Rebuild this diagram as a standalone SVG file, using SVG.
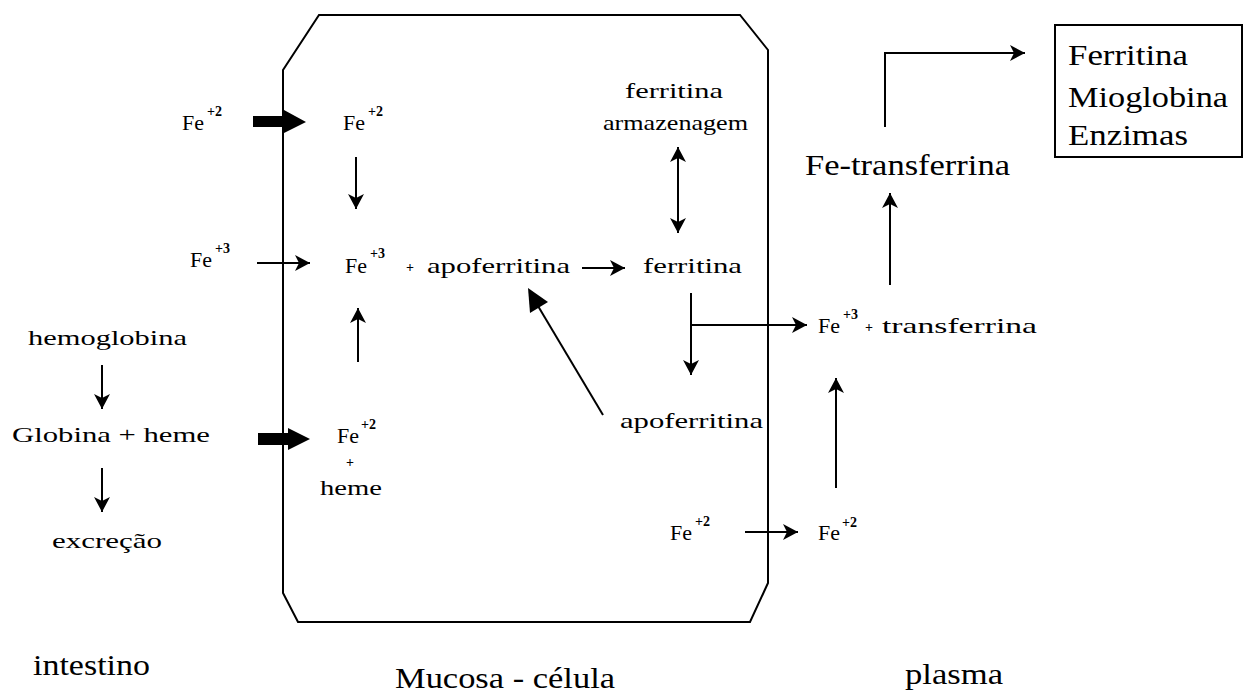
<svg xmlns="http://www.w3.org/2000/svg" width="1248" height="697" viewBox="0 0 1248 697">
<style>
text{font-family:"Liberation Serif","Times New Roman",serif;fill:#000}
.s{font-size:22px}
.l{font-size:30px}
.sup{font-size:14px;font-weight:bold}
.ln{stroke:#000;stroke-width:2;fill:none}
.thick{fill:#000}
</style>
<defs>
<marker id="ah" markerUnits="userSpaceOnUse" viewBox="-16 -10 17 20" refX="0" refY="0" markerWidth="17" markerHeight="20" orient="auto-start-reverse">
<path d="M0,0 L-15,-8 L-11,0 L-15,8 Z" fill="#000"/>
</marker>
</defs>
<g id="cell">
<polygon class="ln" points="319,15 740,15 768,50 768,583 750,622 298,622 283,593 283,70"/>
</g>
<g id="result-box">
<rect x="1055" y="25" width="187" height="132" class="ln"/>
<text class="l" x="1068" y="65" textLength="120" lengthAdjust="spacingAndGlyphs">Ferritina</text>
<text class="l" x="1068" y="107" textLength="160" lengthAdjust="spacingAndGlyphs">Mioglobina</text>
<text class="l" x="1068" y="145" textLength="120" lengthAdjust="spacingAndGlyphs">Enzimas</text>
</g>
<g id="fe2-int"><text class="s" x="182" y="130">Fe</text><text class="sup" x="207" y="116">+2</text></g>
<g id="fe3-int"><text class="s" x="190" y="267">Fe</text><text class="sup" x="215" y="253">+3</text></g>
<g id="hemoglobina"><text class="s" x="28" y="345" textLength="159" lengthAdjust="spacingAndGlyphs">hemoglobina</text></g>
<g id="globina-heme"><text class="s" x="12" y="442" textLength="198" lengthAdjust="spacingAndGlyphs">Globina + heme</text></g>
<g id="excrecao"><text class="s" x="52" y="548" textLength="110" lengthAdjust="spacingAndGlyphs">excreção</text></g>
<g id="intestino"><text class="l" x="33" y="675" textLength="117" lengthAdjust="spacingAndGlyphs">intestino</text></g>
<g id="fe2-cell"><text class="s" x="343" y="130">Fe</text><text class="sup" x="368" y="116">+2</text></g>
<g id="fe3-apoferritina">
<text class="s" x="345" y="273">Fe</text><text class="sup" x="370" y="258">+3</text>
<text class="sup" x="406" y="272">+</text>
<text class="s" x="427" y="273" textLength="143" lengthAdjust="spacingAndGlyphs">apoferritina</text>
</g>
<g id="fe2-heme">
<text class="s" x="337" y="443">Fe</text><text class="sup" x="361" y="429">+2</text>
<text class="sup" x="346" y="467">+</text>
<text class="s" x="320" y="495" textLength="62" lengthAdjust="spacingAndGlyphs">heme</text>
</g>
<g id="ferritina-armazenagem">
<text class="s" x="625" y="98" textLength="98" lengthAdjust="spacingAndGlyphs">ferritina</text>
<text class="s" x="603" y="130" textLength="145" lengthAdjust="spacingAndGlyphs">armazenagem</text>
</g>
<g id="ferritina"><text class="s" x="643" y="273" textLength="99" lengthAdjust="spacingAndGlyphs">ferritina</text></g>
<g id="apoferritina"><text class="s" x="620" y="428" textLength="143" lengthAdjust="spacingAndGlyphs">apoferritina</text></g>
<g id="fe2-cell-bottom"><text class="s" x="670" y="540">Fe</text><text class="sup" x="695" y="526">+2</text></g>
<g id="fe3-transferrina">
<text class="s" x="818" y="333">Fe</text><text class="sup" x="843" y="319">+3</text>
<text class="sup" x="865" y="332">+</text>
<text class="s" x="882" y="333" textLength="155" lengthAdjust="spacingAndGlyphs">transferrina</text>
</g>
<g id="fe2-plasma"><text class="s" x="818" y="540">Fe</text><text class="sup" x="842" y="527">+2</text></g>
<g id="fe-transferrina"><text class="l" x="805" y="175" textLength="205" lengthAdjust="spacingAndGlyphs">Fe-transferrina</text></g>
<g id="mucosa"><text class="l" x="395" y="688" textLength="220" lengthAdjust="spacingAndGlyphs">Mucosa - célula</text></g>
<g id="plasma"><text class="l" x="905" y="684" textLength="98" lengthAdjust="spacingAndGlyphs">plasma</text></g>
<g id="connectors">
<polygon class="thick" points="253,116 284,116 284,110 306,122 284,133 284,127 253,127"/>
<polygon class="thick" points="258,433 288,433 288,428 310,439 288,450 288,445 258,445"/>
<line class="ln" x1="257" y1="263" x2="310" y2="263" marker-end="url(#ah)"/>
<line class="ln" x1="356" y1="157" x2="356" y2="209" marker-end="url(#ah)"/>
<line class="ln" x1="358" y1="362" x2="358" y2="308" marker-end="url(#ah)"/>
<line class="ln" x1="582" y1="268" x2="625" y2="268" marker-end="url(#ah)"/>
<line class="ln" x1="102" y1="365" x2="102" y2="409" marker-end="url(#ah)"/>
<line class="ln" x1="102" y1="468" x2="102" y2="512" marker-end="url(#ah)"/>
<line class="ln" x1="603" y1="415" x2="538" y2="306"/>
<polygon class="thick" points="528,288 530,313 548,302"/>
<line class="ln" x1="678" y1="147" x2="678" y2="233" marker-start="url(#ah)" marker-end="url(#ah)"/>
<line class="ln" x1="691" y1="293" x2="691" y2="375" marker-end="url(#ah)"/>
<line class="ln" x1="691" y1="325" x2="807" y2="325" marker-end="url(#ah)"/>
<line class="ln" x1="745" y1="532" x2="798" y2="532" marker-end="url(#ah)"/>
<line class="ln" x1="836" y1="488" x2="836" y2="378" marker-end="url(#ah)"/>
<line class="ln" x1="890" y1="285" x2="890" y2="193" marker-end="url(#ah)"/>
<path class="ln" d="M885,127 V53 H1025" marker-end="url(#ah)"/>
</g>
</svg>
